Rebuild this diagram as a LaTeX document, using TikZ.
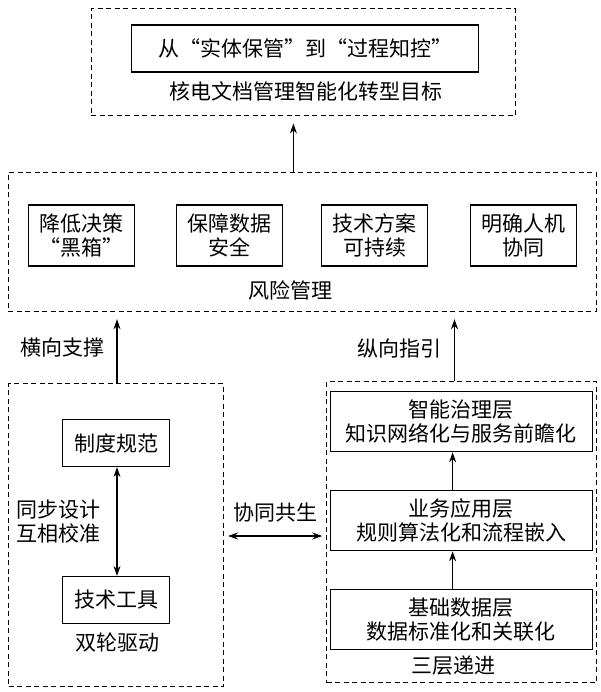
\documentclass[tikz,border=0pt]{standalone}
\usepackage{fontspec}
\newfontfamily\cjk{Noto Sans CJK SC}
\usetikzlibrary{arrows.meta,calc}
\begin{document}
\begin{tikzpicture}[x=1pt,y=-1pt,
  every node/.style={font=\cjk\fontsize{21}{24}\selectfont, inner sep=0pt, align=center},
  sbox/.style={draw, line width=1.2pt},
  dbox/.style={draw, line width=1pt, dash pattern=on 5pt off 3.5pt},
  arr/.style={-{Stealth[length=10pt,width=7pt]}, line width=1.1pt},
  darr/.style={{Stealth[length=10pt,width=7pt]}-{Stealth[length=10pt,width=7pt]}, line width=1.1pt}]
\useasboundingbox (0,0) rectangle (601,692);
\fill[white] (0,0) rectangle (601,692);

% goal group
\node[dbox, minimum width=424pt, minimum height=107pt] (goal) at (303,62.5) {};
\node[sbox, minimum width=347pt, minimum height=47pt] (goalbox) at (305,48.5) {从“实体保管”到“过程知控”};
\node (goaltxt) at (306,91) {核电文档管理智能化转型目标};

% risk group
\node[dbox, minimum width=588pt, minimum height=139pt] (risk) at (302,242.2) {};
\node[sbox, minimum width=106pt, minimum height=61pt] (r1) at (81.5,235.5) {降低决策\\“黑箱”};
\node[sbox, minimum width=106pt, minimum height=61pt] (r2) at (229.5,235.5) {保障数据\\安全};
\node[sbox, minimum width=106pt, minimum height=61pt] (r3) at (374.5,235.5) {技术方案\\可持续};
\node[sbox, minimum width=106pt, minimum height=61pt] (r4) at (523.5,235.5) {明确人机\\协同};
\node (risktxt) at (290,290) {风险管理};

% left group
\node[dbox, minimum width=215pt, minimum height=303pt] (left) at (116,535.3) {};
\node[sbox, minimum width=107pt, minimum height=47pt] (zd) at (116,443) {制度规范};
\node[sbox, minimum width=107pt, minimum height=47pt] (js) at (116,600) {技术工具};
\node (leftlbl) at (117,643) {双轮驱动};
\node[anchor=west, align=left] (sync) at (16,522) {同步设计\\互相校准};

% right group
\node[dbox, minimum width=270pt, minimum height=301pt] (right) at (461.7,532.4) {};
\node[sbox, minimum width=262pt, minimum height=60pt] (l3) at (461.3,421.7) {智能治理层\\知识网络化与服务前瞻化};
\node[sbox, minimum width=262pt, minimum height=60pt] (l2) at (461.3,520.7) {业务应用层\\规则算法化和流程嵌入};
\node[sbox, minimum width=262pt, minimum height=60pt] (l1) at (461.3,619.3) {基础数据层\\数据标准化和关联化};
\node (rightlbl) at (453,666) {三层递进};

% labels
\node (hx) at (62,348) {横向支撑};
\node (zx) at (399,348) {纵向指引};
\node (xt) at (275,513) {协同共生};

% helper coordinates
\coordinate (cA) at (293.4,0);
\coordinate (cB) at (117,0);
\coordinate (cC) at (454.5,0);
\coordinate (cD) at (452.6,0);
\coordinate (cE) at (0,536);

% connectors
\draw[arr, shorten >=7pt] (risk.north -| cA) -- (goal.south -| cA);
\draw[arr, shorten >=7pt] (left.north -| cB) -- (risk.south -| cB);
\draw[arr, shorten >=7pt] (right.north -| cC) -- (risk.south -| cC);
\draw[darr] (zd.south -| cB) -- (js.north -| cB);
\draw[arr] (l1.north -| cD) -- (l2.south -| cD);
\draw[arr] (l2.north -| cD) -- (l3.south -| cD);
\draw[darr] ([xshift=4pt]left.east |- cE) -- ([xshift=-4pt]right.west |- cE);
\end{tikzpicture}
\end{document}
